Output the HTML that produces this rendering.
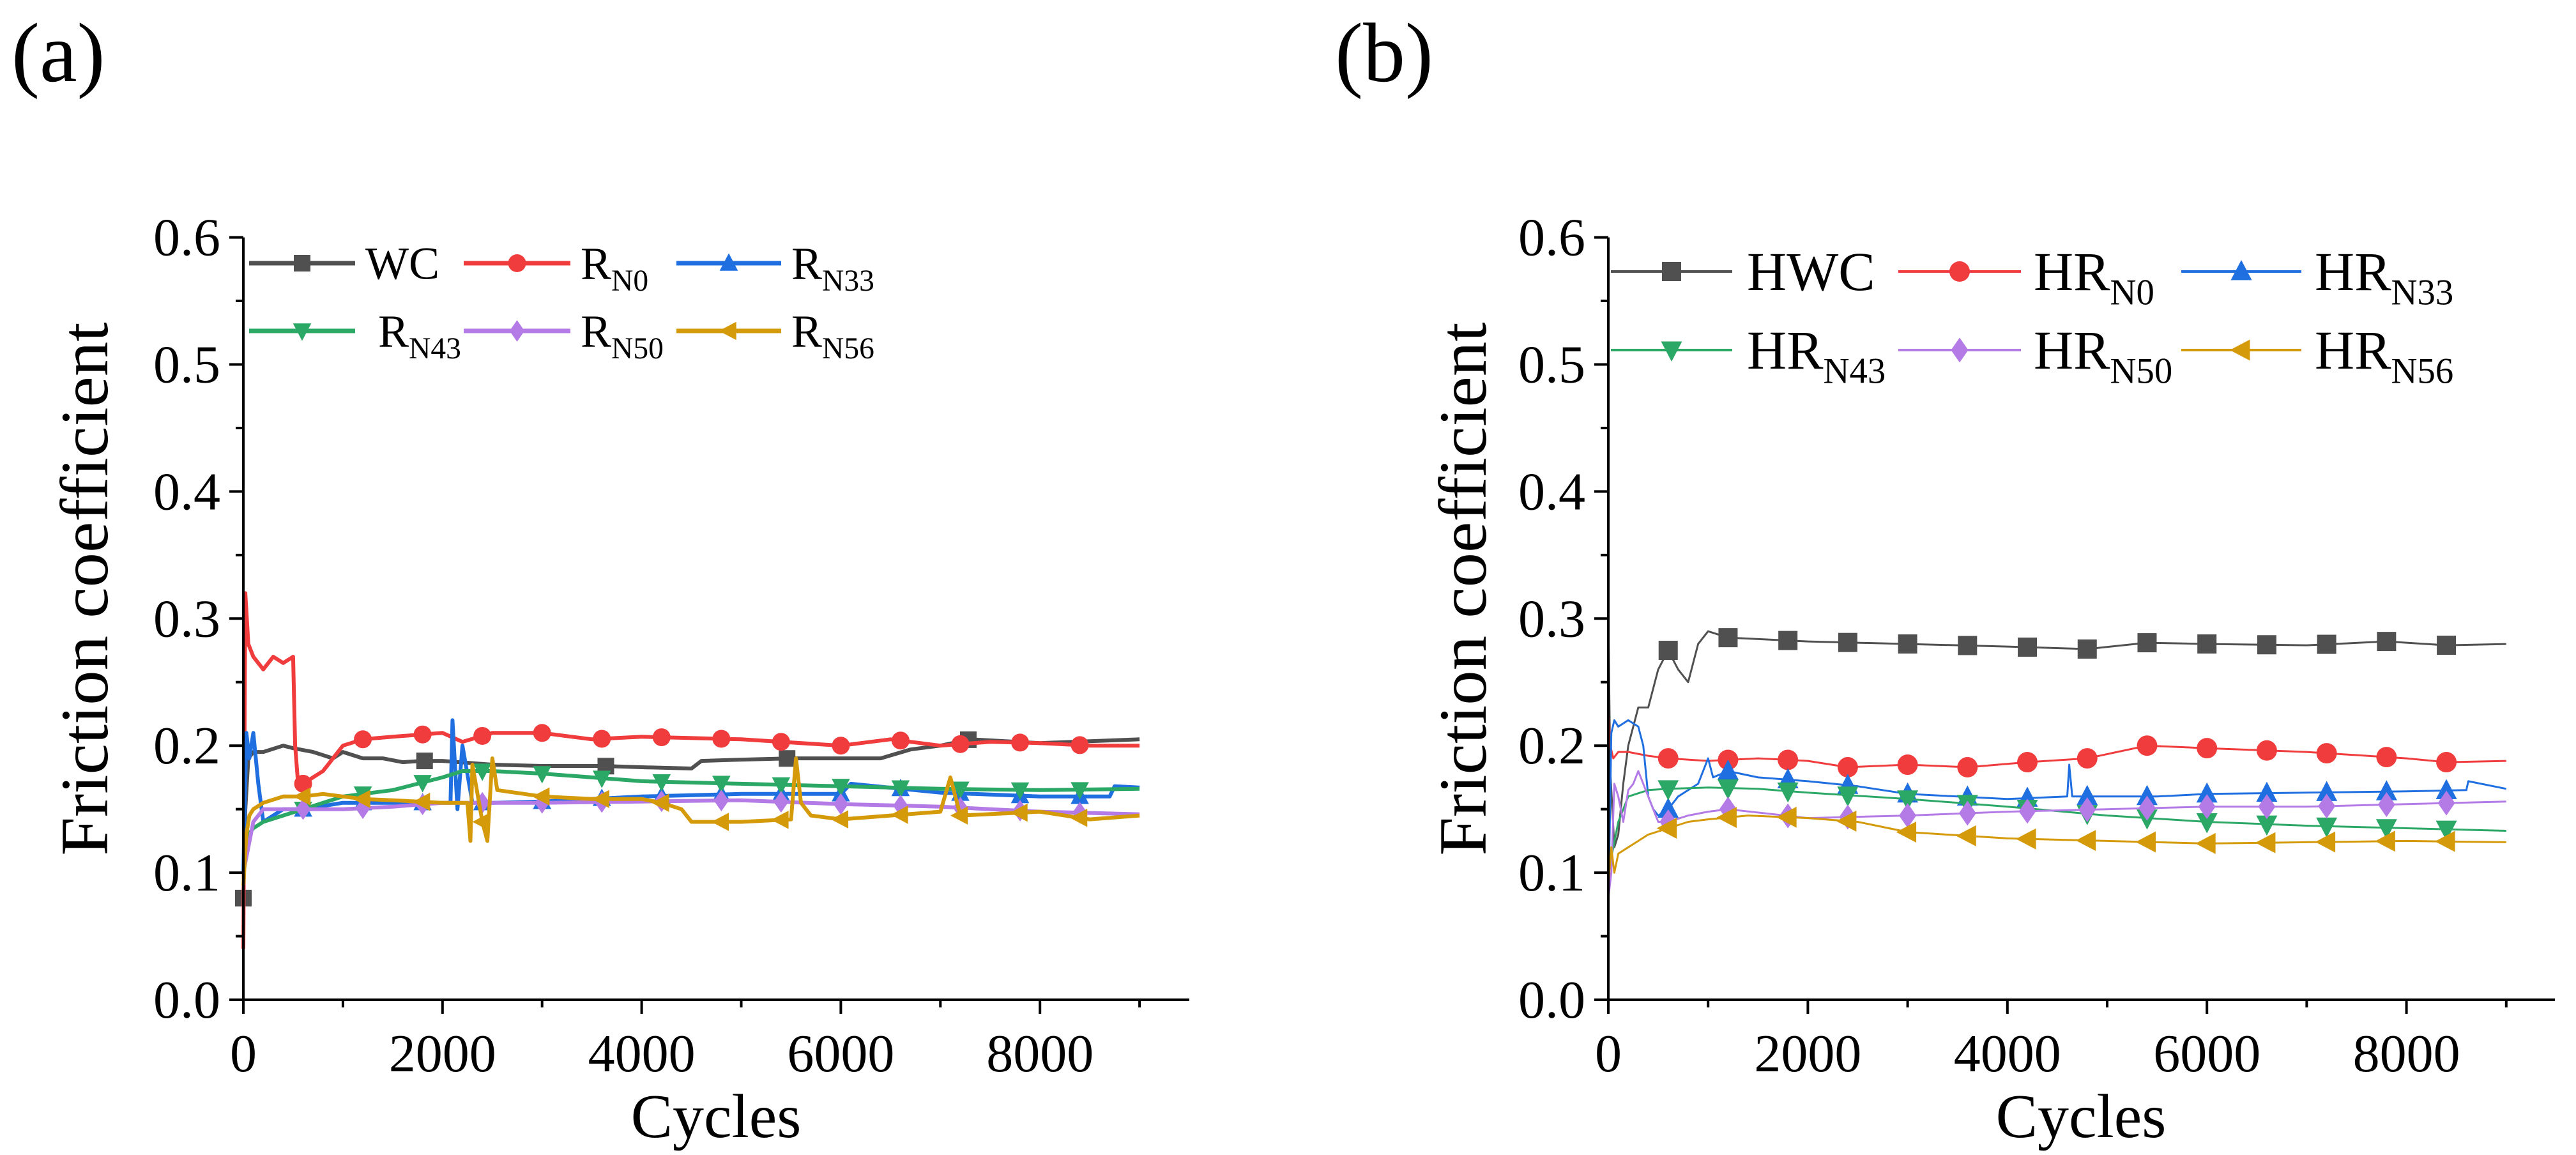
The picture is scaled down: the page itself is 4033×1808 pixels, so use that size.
<!DOCTYPE html>
<html><head><meta charset="utf-8"><style>
html,body{margin:0;padding:0;background:#fff}
svg{display:block}
svg text{font-family:"Liberation Serif","Times New Roman",serif}
</style></head><body>
<svg id="fig" width="4033" height="1808" viewBox="0 0 4033 1808" xmlns="http://www.w3.org/2000/svg" font-family="Liberation Serif, serif">
<text x="18" y="127" font-size="132" font-family="Liberation Serif, serif">(a)</text>
<text x="2090" y="127" font-size="132" font-family="Liberation Serif, serif">(b)</text>
</svg>
<script>
// ---------- Panel (a) data ----------
const aWCx=[0,20,50,100,200,400,500,700,900,1000,1200,1400,1600,1800,2000,2500,3000,3600,4000,4500,4600,5000,5500,6000,6400,6700,7000,7300,8000,9000];
const aWCy=[0.08,0.15,0.19,0.195,0.195,0.2,0.198,0.195,0.19,0.195,0.19,0.19,0.187,0.188,0.188,0.185,0.184,0.184,0.183,0.182,0.188,0.189,0.19,0.19,0.19,0.197,0.2,0.205,0.202,0.205];
const aN0x=[0,20,50,100,200,300,400,500,520,550,600,700,800,900,1000,1200,1500,2000,2200,2500,3000,3500,4000,5000,6000,6500,7000,7500,8000,8500,9000];
const aN0y=[0.04,0.32,0.28,0.27,0.26,0.27,0.265,0.27,0.2,0.17,0.17,0.175,0.18,0.19,0.2,0.205,0.207,0.21,0.203,0.21,0.21,0.205,0.207,0.205,0.2,0.205,0.2,0.203,0.202,0.2,0.2];
const aN33x=[0,30,60,100,150,200,400,600,1000,1500,2000,2080,2100,2150,2200,2300,2500,3000,4000,5000,6000,6100,7000,8000,8700,8750,9000];
const aN33y=[0.1,0.21,0.19,0.21,0.17,0.14,0.15,0.15,0.155,0.155,0.155,0.155,0.22,0.15,0.2,0.155,0.155,0.156,0.16,0.162,0.162,0.17,0.163,0.16,0.16,0.168,0.167];
const aN43x=[0,50,100,200,400,600,800,1000,1500,2000,2200,2500,3000,3500,4000,5000,6000,7000,8000,9000];
const aN43y=[0.1,0.13,0.135,0.14,0.145,0.15,0.155,0.16,0.165,0.175,0.18,0.18,0.178,0.175,0.172,0.17,0.168,0.166,0.165,0.166];
const aN50x=[0,50,100,200,400,600,1000,1500,2000,3000,4000,5000,6000,7000,8000,9000];
const aN50y=[0.1,0.12,0.14,0.15,0.15,0.15,0.15,0.152,0.155,0.155,0.156,0.157,0.154,0.152,0.148,0.146];
const aN56x=[0,30,60,100,200,400,600,800,1000,1200,1500,2000,2250,2280,2300,2400,2450,2500,2550,3000,3500,4000,4200,4400,4500,4700,5000,5500,5550,5600,5700,6000,6500,7000,7100,7200,8000,8500,9000];
const aN56y=[0.09,0.13,0.145,0.15,0.155,0.16,0.16,0.162,0.16,0.158,0.157,0.155,0.155,0.125,0.185,0.14,0.125,0.19,0.165,0.16,0.158,0.158,0.155,0.15,0.14,0.14,0.14,0.142,0.19,0.155,0.145,0.142,0.145,0.148,0.175,0.145,0.148,0.142,0.145];
const aWCmarks=[0,1820,3640,5460,7280];
const aMarks=[600,1200,1800,2400,3000,3600,4200,4800,5400,6000,6600,7200,7800,8400];
// ---------- Panel (b) data ----------
const bWCx=[0,20,60,100,150,200,300,400,500,600,700,800,900,1000,1200,2000,3000,4000,4800,5400,6000,7000,7800,8400,9000];
const bWCy=[0.3,0.18,0.12,0.13,0.17,0.2,0.23,0.23,0.26,0.275,0.26,0.25,0.28,0.29,0.285,0.282,0.28,0.278,0.276,0.281,0.28,0.279,0.282,0.279,0.28];
const bN0x=[0,20,50,100,200,400,600,1000,1500,2000,2400,3000,3600,4200,4800,5400,6000,7000,8000,8400,9000];
const bN0y=[0.23,0.2,0.19,0.195,0.195,0.192,0.19,0.188,0.19,0.188,0.183,0.185,0.183,0.187,0.19,0.2,0.198,0.195,0.19,0.187,0.188];
const bN33x=[0,30,60,100,200,300,350,400,450,500,600,700,900,1000,1050,1200,1500,2000,2500,3000,3500,4000,4600,4620,4650,4800,5500,6000,7000,8000,8600,8620,9000];
const bN33y=[0.07,0.21,0.22,0.215,0.22,0.215,0.2,0.16,0.15,0.145,0.15,0.16,0.17,0.19,0.175,0.18,0.175,0.172,0.168,0.162,0.16,0.158,0.16,0.185,0.16,0.16,0.16,0.162,0.163,0.164,0.165,0.172,0.166];
const bN43x=[0,50,100,200,400,600,1000,1500,2000,3000,4000,5000,6000,7000,8000,9000];
const bN43y=[0.1,0.12,0.14,0.16,0.165,0.166,0.167,0.166,0.163,0.158,0.152,0.145,0.14,0.137,0.135,0.133];
const bN50x=[0,30,60,100,150,200,250,300,400,500,600,800,1000,1200,2000,3000,4000,5000,6000,7000,8000,9000];
const bN50y=[0.08,0.1,0.17,0.16,0.14,0.165,0.17,0.18,0.16,0.14,0.14,0.145,0.148,0.15,0.143,0.145,0.148,0.15,0.152,0.152,0.154,0.156];
const bN56x=[0,30,60,100,200,300,400,600,800,1000,1400,2000,2500,3000,4000,5000,6000,7000,8000,9000];
const bN56y=[0.09,0.12,0.1,0.115,0.12,0.125,0.13,0.135,0.14,0.142,0.145,0.143,0.14,0.132,0.127,0.125,0.123,0.124,0.125,0.124];
const bMarks=[600,1200,1800,2400,3000,3600,4200,4800,5400,6000,6600,7200,7800,8400];
const xTicks=[0,2000,4000,6000,8000];
const yTicks=[0.0,0.1,0.2,0.3,0.4,0.5,0.6];

const NS="http://www.w3.org/2000/svg";
const FF="Liberation Serif, serif";
const svg=document.getElementById('fig');
function mk(tag,attrs,parent){const e=document.createElementNS(NS,tag);for(const k in attrs)e.setAttribute(k,attrs[k]);if(tag==='text')e.setAttribute('font-family',FF);(parent||svg).appendChild(e);return e;}
function interp(xs,ys,x){for(let i=1;i<xs.length;i++){if(x<=xs[i]){const t=(x-xs[i-1])/(xs[i]-xs[i-1]);return ys[i-1]+t*(ys[i]-ys[i-1]);}}return ys[ys.length-1];}
function marker(g,shape,cx,cy,s,color){
  let e;
  if(shape==='sq')e=mk('rect',{x:cx-s/2,y:cy-s/2,width:s,height:s,fill:color},g);
  else if(shape==='ci')e=mk('circle',{cx:cx,cy:cy,r:s/2+1,fill:color},g);
  else if(shape==='up')e=mk('polygon',{points:`${cx},${cy-s*0.6} ${cx-s*0.55},${cy+s*0.45} ${cx+s*0.55},${cy+s*0.45}`,fill:color},g);
  else if(shape==='dn')e=mk('polygon',{points:`${cx},${cy+s*0.6} ${cx-s*0.55},${cy-s*0.45} ${cx+s*0.55},${cy-s*0.45}`,fill:color},g);
  else if(shape==='di')e=mk('polygon',{points:`${cx},${cy-s*0.65} ${cx+s*0.45},${cy} ${cx},${cy+s*0.65} ${cx-s*0.45},${cy}`,fill:color},g);
  else e=mk('polygon',{points:`${cx-s*0.6},${cy} ${cx+s*0.45},${cy-s*0.55} ${cx+s*0.45},${cy+s*0.55}`,fill:color},g);
  
  
}
function panel(P){
  const X=v=>P.x0+v*P.kx, Y=v=>P.y0-v*P.ky;
  const g=mk('g',{});
  
  
  P.series.forEach(s=>{
    const sg=mk('g',{},g);
    
    
    const d=s.x.map((v,i)=>(i?'L':'M')+X(v).toFixed(1)+','+Y(s.y[i]).toFixed(1)).join('');
    const p=mk('path',{d:d,fill:'none',stroke:s.c,'stroke-width':P.lw,'stroke-linejoin':'round'},sg);
    
    
    s.m.forEach(mx=>marker(sg,s.sh,X(mx),Y(interp(s.x,s.y,mx)),P.ms,s.c));
  });
  const ax=mk('path',{d:`M${P.x0},${Y(0.6)}L${P.x0},${P.y0}L${P.xEnd},${P.y0}`,fill:'none',stroke:'#000','stroke-width':4},g);
  
  
  let t='';
  for(let v=0;v<=9000;v+=1000){const L=(v%2000===0)?22:12;t+=`M${X(v)},${P.y0}L${X(v)},${P.y0+L}`;}
  for(let i=0;i<=12;i++){const L=(i%2===0)?22:12;const yy=Y(i*0.05);t+=`M${P.x0},${yy}L${P.x0-L},${yy}`;}
  const tk=mk('path',{d:t,stroke:'#000','stroke-width':4,fill:'none'},g);
  
  
  xTicks.forEach(v=>{const e=mk('text',{x:X(v),y:P.y0+112,'font-size':84,'text-anchor':'middle'},g);e.textContent=String(v);
    
    });
  yTicks.forEach(v=>{const e=mk('text',{x:P.x0-36,y:Y(v)+28,'font-size':84,'text-anchor':'end'},g);e.textContent=v.toFixed(1);
    
    });
  const xt=mk('text',{x:P.x0+740,y:1780,'font-size':98,'text-anchor':'middle'},g);xt.textContent='Cycles';
  
  
  const yt=mk('text',{x:0,y:0,'font-size':106,'text-anchor':'middle',textLength:835,lengthAdjust:'spacingAndGlyphs',transform:`translate(${P.titleX},922) rotate(-90)`},g);yt.textContent='Friction coefficient';
  
  
  P.series.forEach((s,i)=>{
    const L=P.leg[i];
    const lg=mk('g',{},g);
    
    
    mk('line',{x1:L[0],x2:L[1],y1:L[3],y2:L[3],stroke:s.c,'stroke-width':P.lw+1},lg);
    marker(lg,s.sh,(L[0]+L[1])/2,L[3],P.ms,s.c);
    const tx=mk('text',{x:L[2],y:L[3]+P.lfs*0.34,'font-size':P.lfs},lg);
    if(s.sub){tx.textContent=s.lab;const ts=mk('tspan',{'font-size':P.lfs*0.66,dy:P.lfs*0.26},tx);ts.textContent=s.sub;}
    else tx.textContent=s.lab;
  });
}
panel({name:'panel-a-chart',x0:381,y0:1565,kx:155.9/1000,ky:1989,xEnd:1862,lw:6,ms:26,titleX:168,lfs:72,
 series:[
  {id:'series-wc',x:aWCx,y:aWCy,c:'#505050',sh:'sq',m:aWCmarks,lab:'WC',sub:''},
  {id:'series-rn0',x:aN0x,y:aN0y,c:'#f03c3c',sh:'ci',m:aMarks,lab:'R',sub:'N0'},
  {id:'series-rn33',x:aN33x,y:aN33y,c:'#1f6fe0',sh:'up',m:aMarks,lab:'R',sub:'N33'},
  {id:'series-rn43',x:aN43x,y:aN43y,c:'#2ca866',sh:'dn',m:aMarks,lab:'R',sub:'N43'},
  {id:'series-rn50',x:aN50x,y:aN50y,c:'#b47ae6',sh:'di',m:aMarks,lab:'R',sub:'N50'},
  {id:'series-rn56',x:aN56x,y:aN56y,c:'#d49a0a',sh:'lt',m:aMarks,lab:'R',sub:'N56'}],
 leg:[[390,556,572,412],[726,893,909,412],[1059,1223,1239,412],[390,556,592,518],[726,893,909,518],[1059,1223,1239,518]]});
panel({name:'panel-b-chart',x0:2518,y0:1565,kx:156.2/1000,ky:1989,xEnd:4000,lw:3,ms:30,titleX:2326,lfs:86,
 series:[
  {id:'series-hwc',x:bWCx,y:bWCy,c:'#505050',sh:'sq',m:bMarks,lab:'HWC',sub:''},
  {id:'series-hrn0',x:bN0x,y:bN0y,c:'#f03c3c',sh:'ci',m:bMarks,lab:'HR',sub:'N0'},
  {id:'series-hrn33',x:bN33x,y:bN33y,c:'#1f6fe0',sh:'up',m:bMarks,lab:'HR',sub:'N33'},
  {id:'series-hrn43',x:bN43x,y:bN43y,c:'#2ca866',sh:'dn',m:bMarks,lab:'HR',sub:'N43'},
  {id:'series-hrn50',x:bN50x,y:bN50y,c:'#b47ae6',sh:'di',m:bMarks,lab:'HR',sub:'N50'},
  {id:'series-hrn56',x:bN56x,y:bN56y,c:'#d49a0a',sh:'lt',m:bMarks,lab:'HR',sub:'N56'}],
 leg:[[2522,2712,2735,425],[2972,3164,3184,425],[3415,3603,3624,425],[2522,2712,2735,548],[2972,3164,3184,548],[3415,3603,3624,548]]});
</script>
</body></html>
